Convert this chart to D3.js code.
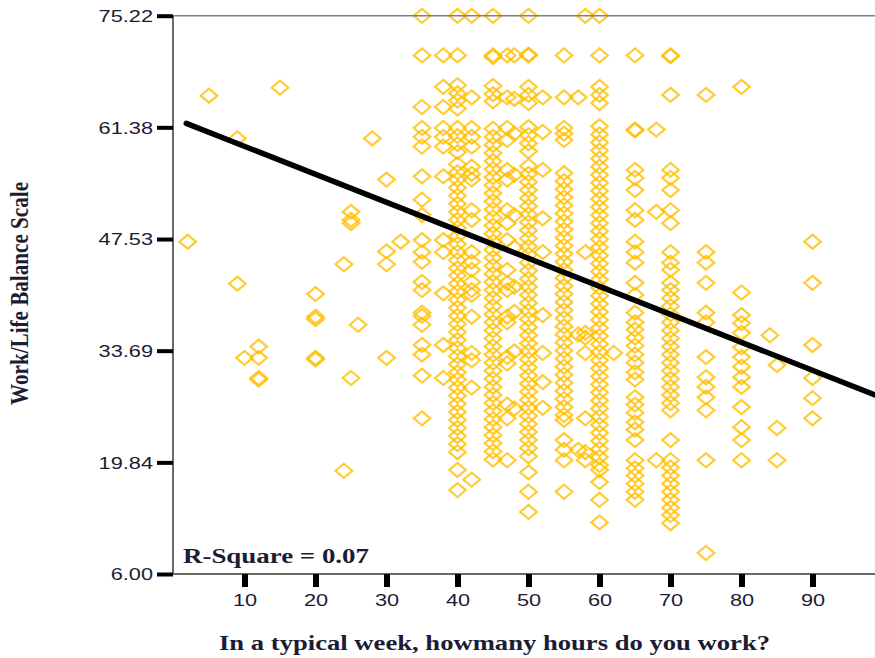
<!DOCTYPE html>
<html><head><meta charset="utf-8">
<script src="https://cdn.jsdelivr.net/npm/d3@7"></script>
<style>body{margin:0;background:#fff}svg{display:block}</style>
</head><body>
<svg id="c" width="875" height="658"></svg>
<script>
// ---- tick labels ----
const yTickValues = [6.00, 19.84, 33.69, 47.53, 61.38, 75.22];
const xTickValues = [10, 20, 30, 40, 50, 60, 70, 80, 90];

// ---- scattered individual points (hours, score) ----
const sparseHours  = [2, 5, 9, 15, 28, 30, 25, 25, 25, 32, 30, 30, 24, 9, 20, 20, 20, 26, 12, 12, 10, 12, 12, 20, 20, 30, 25, 24, 62, 84, 68, 68, 68];
const sparseScores = [47.2, 65.3, 60.0, 66.3, 60.0, 54.9, 50.9, 49.9, 49.5, 47.2, 46.0, 44.4, 44.4, 42.0, 40.7, 37.9, 37.6, 36.9, 34.2, 32.8, 32.8, 30.3, 30.1, 32.8, 32.6, 32.8, 30.3, 18.8, 33.4, 35.6, 61.1, 50.9, 20.1];

// ---- score columns for common hour values ----
const col35 = [75.2, 70.3, 63.9, 61.3, 60.2, 59.0, 55.3, 52.4, 50.5, 47.4, 45.9, 44.7, 42.2, 41.2, 38.4, 38.0, 36.9, 34.4, 33.2, 30.6, 25.3];
const col38 = [70.3, 66.4, 63.9, 61.3, 60.2, 59.0, 55.3, 47.4, 45.9, 40.8, 34.4, 30.3];
const col40 = [75.2, 70.3, 66.6, 65.6, 64.7, 63.7, 61.3, 60.3, 59.3, 58.3, 56.8, 55.8, 54.9, 53.9, 52.9, 51.9, 50.9, 49.9, 48.9, 47.9, 46.9, 45.9, 44.9, 43.9, 43.0, 42.0, 41.0, 40.0, 39.0, 38.0, 37.0, 36.0, 35.0, 34.0, 33.0, 32.0, 31.0, 30.1, 29.1, 28.1, 27.1, 26.1, 25.1, 24.1, 23.1, 22.1, 21.1, 18.9, 16.4];
const col42 = [75.2, 65.1, 61.3, 60.2, 59.0, 56.5, 55.6, 54.9, 51.1, 49.9, 45.9, 44.7, 43.7, 42.2, 41.2, 40.6, 37.9, 33.4, 32.5, 29.1, 17.7];
const col45 = [75.2, 70.3, 70.1, 66.5, 65.5, 64.6, 61.2, 60.2, 59.2, 58.2, 57.2, 56.2, 55.2, 54.2, 53.2, 52.2, 51.2, 50.2, 49.2, 48.2, 47.2, 46.2, 45.2, 44.2, 43.2, 42.2, 41.2, 40.2, 39.2, 38.2, 37.2, 36.2, 35.2, 34.2, 33.2, 32.2, 31.2, 30.2, 29.2, 28.2, 27.2, 26.2, 25.2, 24.2, 23.2, 22.2, 21.2, 20.2];
const col47 = [70.3, 65.1, 61.3, 59.8, 56.1, 54.9, 51.1, 49.5, 47.4, 43.7, 42.1, 41.2, 37.9, 37.2, 32.9, 32.1, 27.0, 25.3, 20.1];
const col48 = [70.3, 64.9, 60.6, 55.5, 50.5, 46.5, 41.6, 38.5, 33.6, 26.5];
const col50 = [75.2, 70.3, 70.4, 66.4, 65.4, 64.4, 61.4, 60.4, 59.4, 58.4, 56.6, 55.6, 54.6, 53.6, 52.6, 51.6, 50.6, 49.6, 48.6, 47.6, 46.6, 45.6, 44.6, 43.6, 42.6, 41.6, 40.6, 39.6, 38.6, 37.6, 36.6, 35.6, 34.6, 33.6, 32.6, 31.6, 30.6, 29.6, 28.6, 27.6, 26.6, 25.6, 24.6, 23.6, 22.6, 21.6, 20.6, 18.6, 16.2, 13.7];
const col52 = [65.1, 60.8, 56.1, 50.1, 45.9, 38.1, 33.4, 29.8, 26.6];
const col55 = [70.3, 65.1, 61.3, 60.6, 59.8, 55.7, 54.7, 53.7, 52.7, 51.7, 50.7, 49.7, 48.7, 47.7, 46.7, 45.7, 44.7, 43.7, 42.7, 41.7, 40.7, 39.7, 38.7, 37.7, 36.7, 35.7, 34.7, 33.7, 32.7, 31.7, 30.7, 29.7, 28.7, 27.7, 26.7, 25.7, 25.1, 22.6, 21.4, 20.1, 16.2];
const col57 = [65.1, 35.7, 21.4];
const col58 = [75.2, 45.9, 35.9, 35.3, 33.4, 25.3, 21.1, 20.1];
const col60 = [75.2, 70.3, 66.4, 65.4, 64.4, 61.5, 60.5, 59.5, 58.5, 57.5, 56.5, 55.5, 54.5, 53.5, 52.5, 51.5, 50.5, 49.5, 48.5, 47.5, 46.5, 45.5, 44.5, 43.5, 42.5, 41.5, 40.5, 39.5, 38.5, 37.5, 36.5, 35.5, 34.5, 33.5, 32.5, 31.5, 30.5, 29.5, 28.5, 27.5, 26.5, 25.5, 24.5, 23.5, 22.5, 21.5, 20.5, 19.5, 18.9, 17.4, 15.2, 12.4];
const col65 = [70.3, 61.1, 61.0, 56.1, 55.1, 53.6, 51.1, 49.9, 47.2, 45.9, 44.6, 42.1, 40.6, 38.4, 37.2, 36.3, 35.3, 34.3, 33.2, 32.2, 31.0, 30.1, 27.9, 27.0, 26.0, 24.8, 23.9, 22.6, 20.1, 19.1, 18.2, 17.2, 16.2, 15.2];
const col70 = [70.3, 70.2, 65.4, 56.1, 55.1, 53.6, 51.1, 49.5, 45.9, 44.6, 43.7, 42.1, 41.2, 40.2, 39.2, 38.2, 37.2, 36.2, 35.2, 34.2, 33.2, 32.2, 31.2, 30.2, 29.2, 28.2, 27.2, 26.3, 22.6, 20.1, 19.2, 18.2, 17.2, 16.2, 15.2, 14.2, 13.3, 12.3];
const col75 = [65.4, 45.9, 44.6, 42.1, 38.4, 37.2, 32.9, 30.4, 29.2, 27.9, 26.3, 20.1, 8.6];
const col80 = [66.4, 40.9, 38.1, 37.1, 35.9, 34.1, 32.9, 31.7, 30.4, 29.2, 26.7, 24.2, 22.6, 20.1];
const col85 = [31.9, 24.1, 20.1];
const col90 = [47.2, 42.1, 34.4, 30.3, 27.8, 25.3];

// ---- fit line ----
const fitIntercept = 62.5;
const fitSlope = -0.3472;
const fitRange = [1.8, 98.8];
const rSquareLabel = "R-Square = 0.07";

// ---- build points ----
const columnTable = [[35, col35], [38, col38], [40, col40], [42, col42], [45, col45], [47, col47], [48, col48],
  [50, col50], [52, col52], [55, col55], [57, col57], [58, col58], [60, col60], [65, col65], [70, col70],
  [75, col75], [80, col80], [85, col85], [90, col90]];
const points = [];
sparseHours.forEach((h, i) => points.push({h, v: sparseScores[i]}));
columnTable.forEach(([h, vals]) => vals.forEach(v => points.push({h, v})));

const svg = d3.select("#c");
const x = d3.scaleLinear().domain([0, 98.8]).range([173.5, 875]);
const y = d3.scaleLinear().domain([6, 75.22]).range([574, 15.7]);
const plotLeft = 173, plotRight = 875, plotTop = y(75.22), plotBottom = y(6);
const SX = 1.36;  // horizontal text stretch of the original
const textColor = "#1c1c34";

// diamonds
const dHW = 8.3, dHH = 7;
svg.append("g").selectAll("path").data(points).join("path")
  .attr("d", `M0,${-dHH}L${dHW},0L0,${dHH}L${-dHW},0Z`)
  .attr("transform", d => `translate(${x(d.h)},${y(d.v)})`)
  .attr("fill", "none").attr("stroke", "#FFBF00").attr("stroke-width", 2.2).attr("stroke-opacity", 0.8);

// frame lines
svg.append("line").attr("x1", plotLeft).attr("x2", plotRight).attr("y1", plotTop).attr("y2", plotTop)
  .attr("stroke", "#808080").attr("stroke-width", 1.5);
svg.append("line").attr("x1", plotLeft).attr("x2", plotLeft).attr("y1", plotTop).attr("y2", plotBottom)
  .attr("stroke", "#6a6a6a").attr("stroke-width", 2);
svg.append("line").attr("x1", plotLeft).attr("x2", plotRight).attr("y1", plotBottom).attr("y2", plotBottom)
  .attr("stroke", "#6a6a6a").attr("stroke-width", 2);

// fit line
const line = d3.line().x(d => x(d)).y(d => y(fitIntercept + fitSlope * d));
svg.append("path").datum(fitRange).attr("d", line)
  .attr("fill", "none").attr("stroke", "#000").attr("stroke-width", 5.5).attr("stroke-linecap", "round");

// y axis
const gy = svg.append("g").attr("transform", `translate(${plotLeft},0)`)
  .call(d3.axisLeft(y).tickValues(yTickValues).tickSize(16).tickPadding(4).tickFormat(d3.format(".2f")));
gy.select(".domain").remove();
gy.selectAll(".tick line").attr("stroke", "#000").attr("stroke-width", 4);
gy.selectAll(".tick text").attr("x", -20 / SX).attr("dy", "0.36em").attr("transform", `scale(${SX},1)`)
  .attr("font-family", "Liberation Sans, Arial, sans-serif").attr("font-size", 16).attr("fill", textColor);

// x axis
const gx = svg.append("g").attr("transform", `translate(0,${plotBottom})`)
  .call(d3.axisBottom(x).tickValues(xTickValues).tickSize(13));
gx.select(".domain").remove();
gx.selectAll(".tick line").attr("stroke", "#000").attr("stroke-width", 6);
gx.selectAll(".tick text").attr("y", 32).attr("dy", 0).attr("transform", `scale(${SX},1)`)
  .attr("font-family", "Liberation Sans, Arial, sans-serif").attr("font-size", 16).attr("fill", textColor);

// R-square
svg.append("text").attr("transform", `translate(183,563) scale(${SX},1)`)
  .attr("font-family", "Liberation Serif, Times New Roman, serif").attr("font-weight", "bold")
  .attr("font-size", 21).attr("fill", textColor)
  .attr("textLength", 186 / SX).attr("lengthAdjust", "spacingAndGlyphs").text(rSquareLabel);

// x title
svg.append("text").attr("transform", `translate(494.5,650) scale(${SX},1)`)
  .attr("text-anchor", "middle")
  .attr("font-family", "Liberation Serif, Times New Roman, serif").attr("font-weight", "bold")
  .attr("font-size", 21).attr("fill", textColor)
  .attr("textLength", 551 / SX).attr("lengthAdjust", "spacingAndGlyphs")
  .text("In a typical week, howmany hours do you work?");

// y title
svg.append("text").attr("transform", `translate(28,293.5) scale(${SX},1) rotate(-90)`)
  .attr("text-anchor", "middle")
  .attr("font-family", "Liberation Serif, Times New Roman, serif").attr("font-weight", "bold")
  .attr("font-size", 18.5).attr("fill", textColor)
  .attr("textLength", 223).attr("lengthAdjust", "spacingAndGlyphs")
  .text("Work/Life Balance Scale");
</script>
</body></html>
